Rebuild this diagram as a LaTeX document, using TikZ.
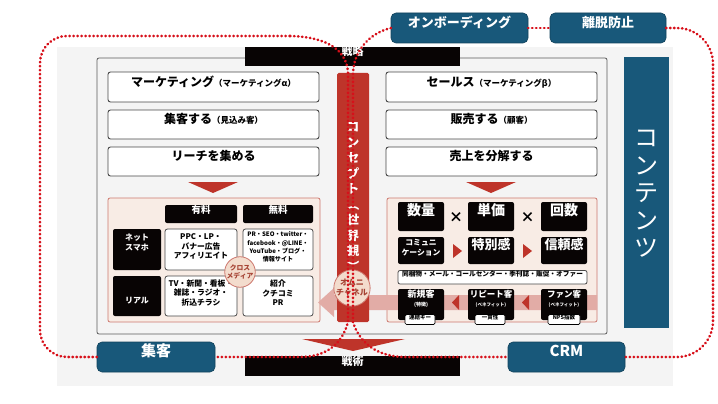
\documentclass[tikz,border=0pt]{standalone}
\usepackage{fontspec}
\setmainfont{Noto Sans CJK JP}
\usetikzlibrary{fit}
\definecolor{blueC}{RGB}{24,88,122}
\definecolor{redC}{RGB}{190,52,42}
\definecolor{bgC}{RGB}{244,244,244}
\definecolor{pinkP}{RGB}{248,236,229}
\definecolor{pinkB}{RGB}{205,120,110}
\definecolor{bandC}{RGB}{226,172,166}
\definecolor{dotC}{RGB}{215,15,25}
\definecolor{circF}{RGB}{243,220,205}
\definecolor{circT}{RGB}{165,65,50}
\definecolor{nearBlack}{RGB}{8,4,4}
\newcommand\fsz[2]{\fontsize{#1}{#2}\selectfont}
\tikzset{
  box/.style={inner sep=0pt, outer sep=0pt, align=center},
  wbox/.style={box, draw=black!72, fill=white, line width=0.9pt, rounded corners=2.5pt},
  bbox/.style={box, fill=nearBlack, text=white, rounded corners=2pt},
  bluebox/.style={box, fill=blueC, draw=blueC!75!black, line width=0.6pt, rounded corners=5pt, text=white},
  dots/.style={draw=dotC, line width=2.6pt, line cap=round, dash pattern=on 0.5pt off 3.5pt},
  tri/.style={fill=redC},
  circ/.style={circle, inner sep=0pt, fill=circF, draw=pinkB, line width=0.8pt, text=circT, align=center},
  smalllab/.style={box, fill=white, draw=black, line width=0.7pt, rounded corners=1.5pt, font=\bfseries\fsz{5.5}{6}},
}
\begin{document}
\begin{tikzpicture}[x=1pt,y=-1pt]
\useasboundingbox (0,0) rectangle (718,404);
\fill[white] (0,0) rectangle (718,404);
% background panel and frame
\node[box, fill=bgC, fit={(57,47)(673,386)}] (bg) {};
\node[box, draw=black!65, line width=0.8pt, rounded corners=2pt, fit={(97,58)(607,334)}] (frame) {};
% top and bottom black bars
\node[box, fill=nearBlack, text=white, font=\bfseries\fsz{11}{13}, fit={(245,47)(460,66)}] (senryaku) {戦略};
\node[box, fill=nearBlack, text=white, font=\bfseries\fsz{11}{13}, fit={(245,356)(460,376)}] (senjutsu) {戦術};
\fill[redC] (302,339) -- (405,339) -- (353,351) -- cycle;
% left column
\node[wbox, font=\bfseries\fsz{12}{14}, fit={(108,72)(319,102)}] (mk) {マーケティング{\fsz{8.5}{10}（マーケティングα）}};
\node[wbox, font=\bfseries\fsz{12}{14}, fit={(108,110)(319,139)}] (sk) {集客する{\fsz{8.5}{10}（見込み客）}};
\node[wbox, font=\bfseries\fsz{12}{14}, fit={(108,147)(319,176)}] (rc) {リーチを集める};
\fill[tri] (188,182) -- (238,182) -- (213,193) -- cycle;
% right column
\node[wbox, font=\bfseries\fsz{12}{14}, fit={(386,72)(597,102)}] (se) {セールス{\fsz{8.5}{10}（マーケティングβ）}};
\node[wbox, font=\bfseries\fsz{12}{14}, fit={(386,110)(597,139)}] (hs) {販売する{\fsz{8.5}{10}（顧客）}};
\node[wbox, font=\bfseries\fsz{12}{14}, fit={(386,147)(597,176)}] (ub) {売上を分解する};
\fill[tri] (466,182) -- (516,182) -- (491,193) -- cycle;
% panels
\node[box, fill=pinkP, draw=pinkB, line width=0.8pt, rounded corners=2pt, fit={(108,198)(320,322)}] (lp) {};
\node[box, fill=pinkP, draw=pinkB, line width=0.8pt, rounded corners=2pt, fit={(387,198)(597,322)}] (rp) {};
% pink band with arrow
\fill[bandC] (318,302.5) -- (334,288) -- (334,295) -- (597,295) -- (597,310) -- (334,310) -- (334,317) -- cycle;
% left panel content
\node[bbox, font=\bfseries\fsz{9.5}{11}, fit={(165,205)(237,223)}] (yuryo) {有料};
\node[bbox, font=\bfseries\fsz{9.5}{11}, fit={(243,205)(313,223)}] (muryo) {無料};
\node[bbox, fit={(113,229)(161,270)}] (net) {};
\node[text=white, font=\bfseries\fsz{8}{10}, align=center, inner sep=0pt] (nett) at (137,243) {ネット\\スマホ};
\node[bbox, fit={(113,276)(161,316)}] (real) {};
\node[text=white, font=\bfseries\fsz{8}{10}, inner sep=0pt] (realt) at (137,301) {リアル};
\node[wbox, line width=0.8pt, font=\bfseries\fsz{7.8}{9.5}, fit={(165,229)(237,270)}] (c1) {PPC・LP・\\バナー広告\\アフィリエイト};
\node[wbox, line width=0.8pt, font=\bfseries\fsz{6.1}{8.2}, fit={(243,229)(313,270)}] (c2) {PR・SEO・twitter・\\facebook・@LINE・\\YouTube・ブログ・\\情報サイト};
\node[wbox, line width=0.8pt, font=\bfseries\fsz{7.8}{9.5}, fit={(165,276)(237,316)}] (c3) {TV・新聞・看板・\\雑誌・ラジオ・\\折込チラシ};
\node[wbox, line width=0.8pt, font=\bfseries\fsz{7.8}{9.5}, fit={(243,276)(313,316)}] (c4) {紹介\\クチコミ\\PR};
\node[circ, minimum size=30pt, font=\bfseries\fsz{6.8}{8.5}] (cross) at (240,272) {クロス\\メディア};
% right panel content
\node[bbox, font=\bfseries\fsz{14}{16}, fit={(398,202)(444,231)}] (suryo) {数量};
\node[bbox, font=\bfseries\fsz{14}{16}, fit={(468,202)(514,231)}] (tanka) {単価};
\node[bbox, font=\bfseries\fsz{14}{16}, fit={(541,202)(587,231)}] (kaisu) {回数};
\node[font=\bfseries\fsz{14}{16}, inner sep=0pt] (x1) at (456,217) {×};
\node[font=\bfseries\fsz{14}{16}, inner sep=0pt] (x2) at (527.5,217) {×};
\node[bbox, font=\bfseries\fsz{7.8}{10}, fit={(398,237)(444,264)}] (comm) {コミュニ\\ケーション};
\node[bbox, font=\bfseries\fsz{13}{15}, fit={(468,237)(514,264)}] (tokubetsu) {特別感};
\node[bbox, font=\bfseries\fsz{13}{15}, fit={(541,237)(587,264)}] (shinrai) {信頼感};
\fill[tri] (453,244) -- (462,251) -- (453,258) -- cycle;
\fill[tri] (523,244) -- (532,251) -- (523,258) -- cycle;
\node[wbox, line width=0.8pt, rounded corners=2pt, font=\bfseries\fsz{6.7}{8}, fit={(398,270.5)(587,284)}] (media) {同梱物・メール・コールセンター・季刊誌・販促・オファー};
\node[bbox, fit={(398,289)(444,320)}] (shinki) {};
\node[bbox, fit={(468,289)(514,320)}] (repeat) {};
\node[bbox, fit={(541,289)(587,320)}] (fan) {};
\node[text=white, align=center, inner sep=0pt, font=\bfseries\fsz{9}{10}] at (421,299) {新規客\\[-1pt]{\fsz{5}{6}(特徴)}};
\node[text=white, align=center, inner sep=0pt, font=\bfseries\fsz{8.5}{10}] at (491,299) {リピート客\\[-1pt]{\fsz{4.5}{6}(ベネフィット)}};
\node[text=white, align=center, inner sep=0pt, font=\bfseries\fsz{8.5}{10}] at (564,299) {ファン客\\[-1pt]{\fsz{4.5}{6}(ベネフィット)}};
\fill[tri] (459,295) -- (459,310) -- (452,302.5) -- cycle;
\fill[tri] (529,295) -- (529,310) -- (522,302.5) -- cycle;
\node[smalllab, fit={(405,314.5)(435,324.5)}] (key) {連結キー};
\node[smalllab, fit={(475,314.5)(505,324.5)}] (ikkan) {一貫性};
\node[smalllab, fit={(548,314.5)(580,324.5)}] (nps) {NPS指数};
% concept bar
\node[box, fill=redC, rounded corners=1.5pt, fit={(337,73)(369,322)}] (concept) {};
\node[text=white, align=center, inner sep=0pt, font=\bfseries\fsz{12.5}{15.5}] (conceptt) at (353,197) {コ\\ン\\セ\\プ\\ト\\︵\\世\\界\\観\\︶};
\node[circ, minimum size=36pt, font=\bfseries\fsz{8}{10}] (omni) at (352,288) {オムニ\\チャネル};
% contents bar
\node[box, fill=blueC, fit={(624,57)(669,328)}] (contents) {};
\node[text=white, align=center, inner sep=0pt, font=\fsz{24}{27.5}] (contentst) at (646.5,194) {コ\\ン\\テ\\ン\\ツ};
% blue boxes
\node[bluebox, font=\bfseries\fsz{13}{15}, fit={(391,13)(528,43)}] (onb) {オンボーディング};
\node[bluebox, font=\bfseries\fsz{13}{15}, fit={(550,13)(666,43)}] (rit) {離脱防止};
\node[bluebox, font=\bfseries\fsz{15}{17}, fit={(97,342)(215,372)}] (shk) {集客};
\node[bluebox, font=\bfseries\fsz{15}{17}, fit={(508,342)(625,372)}] (crm) {CRM};
% dotted loops
\draw[dots, rounded corners=27pt] (shk.west) -- (40,357) -- (40,36) -- (290,36);
\draw[dots] (290,36) .. controls (330,37) and (347,52) .. (348,73) -- (348,322)
  .. controls (342,345) and (325,357) .. (300,357) -- (shk.east);
\draw[dots] (onb.west) .. controls (370,33) and (354,50) .. (353,73) -- (353,322)
  .. controls (360,345) and (380,357) .. (405,357) -- (crm.west);
\draw[dots] (onb.east) -- (rit.west);
\draw[dots, rounded corners=36pt] (rit.east) -- (713,28) -- (713,357) -- (crm.east);
\end{tikzpicture}
\end{document}
